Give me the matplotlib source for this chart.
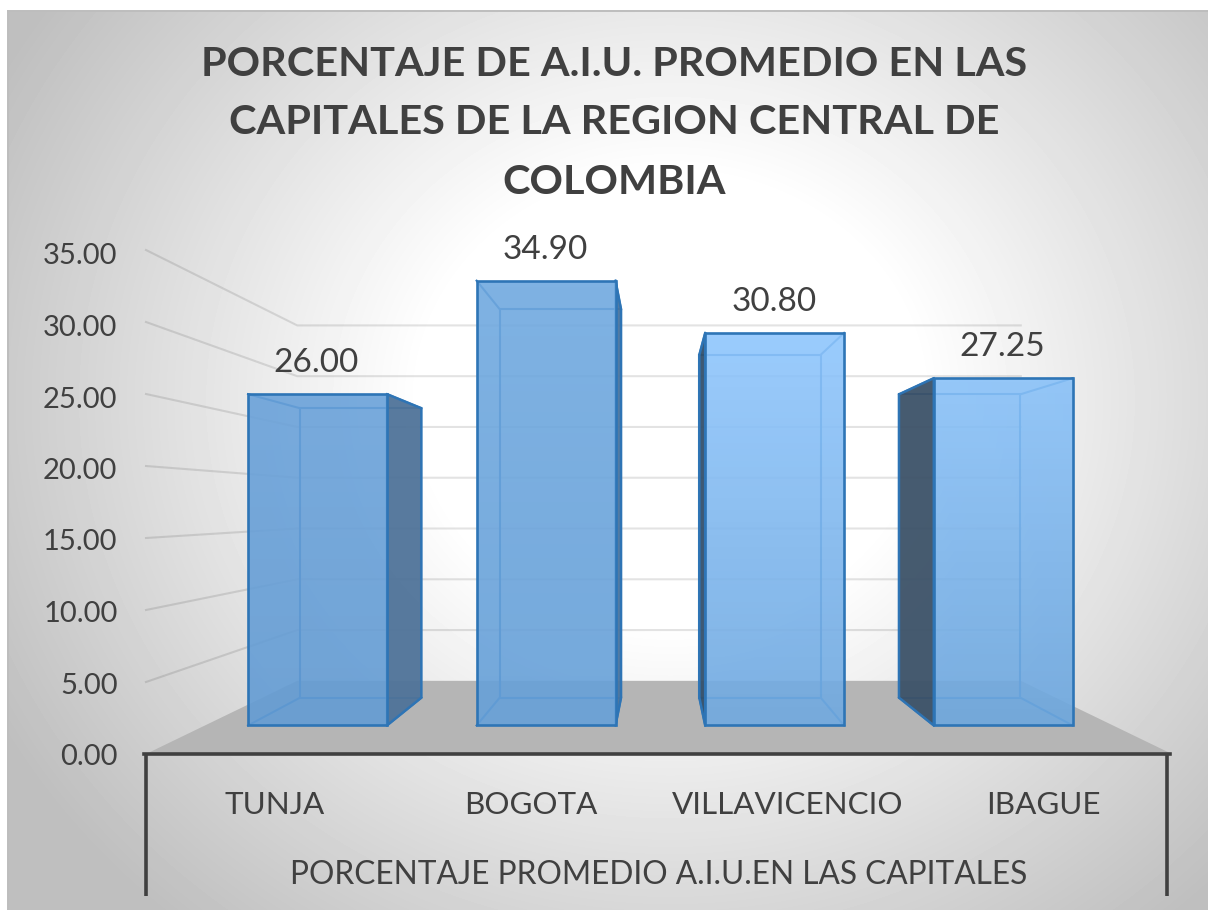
import numpy as np
import matplotlib
matplotlib.use("Agg")
import matplotlib.pyplot as plt
from matplotlib.patches import Polygon, Rectangle
from matplotlib.colors import to_rgb

plt.rcParams['font.family'] = ['Lato', 'DejaVu Sans']

title_lines = ["PORCENTAJE DE A.I.U. PROMEDIO EN LAS", "CAPITALES DE LA REGION CENTRAL DE", "COLOMBIA"]
categories = ["TUNJA", "BOGOTA", "VILLAVICENCIO", "IBAGUE"]
values = [26.00, 34.90, 30.80, 27.25]
y_ticks = [0, 5, 10, 15, 20, 25, 30, 35]
axis_title = "PORCENTAJE PROMEDIO A.I.U.EN LAS CAPITALES"

face_top = ['#6aa2da', '#70a9e0', '#8fc6fd', '#89c1f8']
face_bot = ['#639cd4', '#66a0d8', '#70a9e0', '#6da7de']
side_col = ['#4f7399', '#4a749e', '#33506c', '#3c5268']

W, H = 1208, 910
CX, VY, Y0 = 659.0, 505.8, 754.0
PX_CAT, PX_VAL = 256.5, 14.4
K = 0.418
D_FRONT, D_BACK = 0.311, 0.703
BAR_W, BAR_PITCH, BAR_SHIFT = 0.612, 1.007, 0.006
TXT = '#404040'


def proj(x, v, d):
    s = 1.0 / (1.0 + K * d)
    return CX + x * PX_CAT * s, VY + (Y0 - VY - v * PX_VAL) * s


fig = plt.figure(figsize=(W / 100, H / 100), dpi=100, facecolor='white')
ax = fig.add_axes([0, 0, 1, 1])
ax.axis('off')

# background
yy, xx = np.mgrid[11:H, 8:W]
r = np.hypot((xx - 670) / 1.0, (yy - 400) / 0.9)
g = 255 - 64 * np.clip((r - 250) / 510, 0, 1.0)
ax.imshow(g, cmap='gray', vmin=0, vmax=255, extent=(8, W, H, 11), aspect='auto',
          interpolation='bilinear', zorder=0)
ax.plot([8, 8], [H, 11], color='#bdbdbd', lw=1.4, zorder=1)
ax.plot([8, W], [11, 11], color='#bdbdbd', lw=1.4, zorder=1)

n = len(categories)
xl, xr = -n / 2, n / 2

# floor
ax.add_patch(Polygon([proj(xl, 0, 0), proj(xr, 0, 0), proj(xr, 0, 1), proj(xl, 0, 1)],
                     closed=True, fc='#b5b5b5', ec='none', zorder=2))

# gridlines
for t in y_ticks[1:]:
    pts = [proj(xl, t, 0), proj(xl, t, 1), proj(xr, t, 1)]
    ax.plot(*zip(*pts), color='black', alpha=0.11, lw=1.5, zorder=3, solid_joinstyle='miter')

# bars
EDGE = '#2e75b6'
for i, v in enumerate(values):
    xc = (i + 0.5 - n / 2) * BAR_PITCH + BAR_SHIFT
    a, b = xc - BAR_W / 2, xc + BAR_W / 2
    z = 4 + i
    outer = a if xc > 0 else b
    # back edges, seen through the front
    bk = [proj(a, 0, D_BACK), proj(b, 0, D_BACK), proj(b, v, D_BACK), proj(a, v, D_BACK)]
    ax.add_patch(Polygon(bk, closed=True, fc='none', ec=EDGE, lw=1.5, zorder=z))
    for xe in (a, b):
        for ve in (0, v):
            ax.plot(*zip(proj(xe, ve, D_FRONT), proj(xe, ve, D_BACK)), color=EDGE, lw=1.5, zorder=z)
    # side face that shows beside the front
    side = [proj(outer, 0, D_FRONT), proj(outer, v, D_FRONT), proj(outer, v, D_BACK), proj(outer, 0, D_BACK)]
    ax.add_patch(Polygon(side, closed=True, fc=side_col[i], ec=EDGE, lw=1.8, alpha=0.95, zorder=z + 0.05, joinstyle='round'))
    # front face
    x0, y0 = proj(a, 0, D_FRONT)
    x1, y1 = proj(b, v, D_FRONT)
    t, bt = np.array(to_rgb(face_top[i])), np.array(to_rgb(face_bot[i]))
    grad = np.linspace(0, 1, 64)[:, None, None] * (bt - t) + t
    im = ax.imshow(grad, extent=(x0, x1, y0, y1), origin='upper', aspect='auto', alpha=0.9, zorder=z + 0.1)
    clip = Rectangle((x0, y1), x1 - x0, y0 - y1, transform=ax.transData)
    im.set_clip_path(clip)
    ax.add_patch(Rectangle((x0, y1), x1 - x0, y0 - y1, fc='none', ec=EDGE, lw=1.9, zorder=z + 0.2))
    ax.text((x0 + x1) / 2 - 1, y1 - 31, f"{v:.2f}", ha='center', va='center', color=TXT, fontsize=24, zorder=20)

# axis frame
pl, pr = proj(xl, 0, 0), proj(xr, 0, 0)
ax.plot([pl[0] - 2, pr[0] - 2], [pl[1], pr[1]], color=TXT, lw=2.6, zorder=10)
for xp in (pl[0], pr[0] - 5.5):
    ax.plot([xp, xp], [754, 896], color=TXT, lw=2.6, zorder=10, solid_capstyle='butt')

# labels
for t in y_ticks:
    ax.text(117.5, Y0 - t * 14.3 + 3, f"{t:.2f}", ha='right', va='center', color=TXT, fontsize=21)
for i, c in enumerate(categories):
    ax.text(proj(xl + i + 0.5, 0, 0)[0], 805, c, ha='center', va='center', color=TXT, fontsize=22.6)
ax.text(659, 875, axis_title, ha='center', va='center', color=TXT, fontsize=22.8)
for line, yp in zip(title_lines, (65, 123, 183)):
    ax.text(614, yp, line, ha='center', va='center', color=TXT, fontsize=29.8, fontweight='bold')

ax.set_xlim(0, W)
ax.set_ylim(H, 0)
fig.savefig('out.png', dpi=100)
